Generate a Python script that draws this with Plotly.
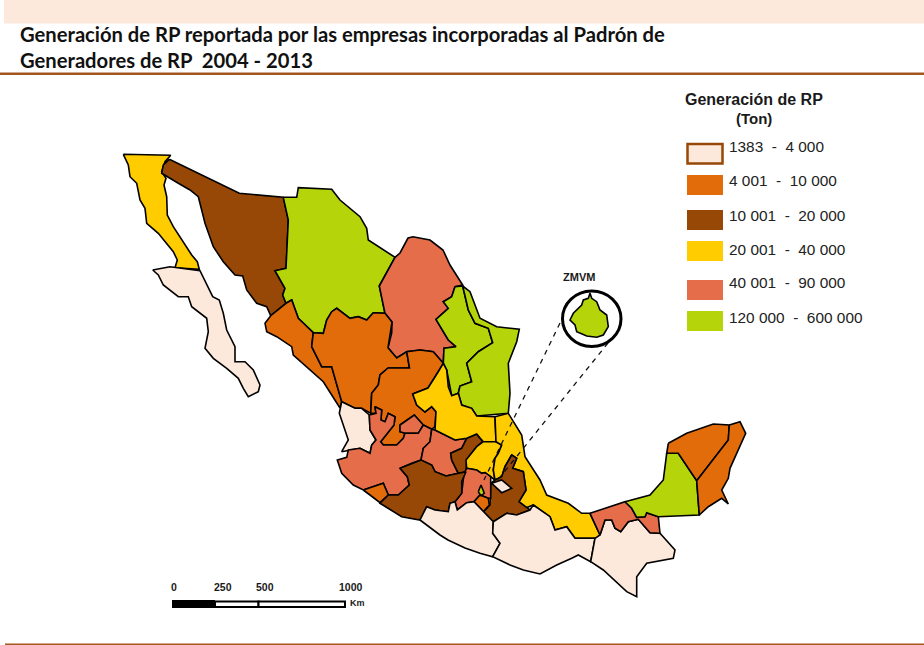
import plotly.graph_objects as go

TITLE_1 = "Generación de RP reportada por las empresas incorporadas al Padrón de"
TITLE_2 = "Generadores de RP  2004 - 2013"
LEGEND_TITLE = ["Generación de RP", "(Ton)"]
CLASS_LABELS = ["1383  -  4 000", "4 001  -  10 000", "10 001  -  20 000",
                "20 001  -  40 000", "40 001  -  90 000", "120 000  -  600 000"]
CLASS_COLORS = ["#FDE9DB", "#E36C0A", "#974806", "#FFCC00", "#E66D4A", "#B5D50A"]
SCALE_LABELS = ["0", "250", "500", "1000"]

baja_california = [(123.3,154.3),(170.7,155.3),(165,161.7),(161.7,171.7),(166,178.3),(164,185),(166.7,196.7),(167.3,215),(173.3,226.7),(185,245),(191.7,255),(197.3,261.7),(199.3,269.3),(175,267.7),(177.3,260),(173.3,251.7),(166.7,243.3),(158.3,233.3),(146.7,223.3),(145,208.3),(140,200),(136.7,183.3),(130,176.7),(128.3,165)]
baja_california_sur = [(152.7,270),(170,266.7),(200,270.7),(206.7,285),(212.7,296.7),(219.3,300),(223.3,313.3),(226.7,330),(235,346.7),(235,361.7),(245,361.7),(253.3,370),(260,385),(258.3,391.7),(248.3,396.7),(243.3,388.3),(238.3,378.3),(226.7,368.3),(213.3,358.3),(205,348.3),(208.3,331.7),(206.7,318.3),(191.7,306.7),(188.3,296.7),(178.3,296.7),(163.3,285),(158.3,275)]
sonora = [(169.3,159.3),(239.3,193.3),(283.3,197.3),(288.3,220),(286,268.3),(275,270.7),(285,288.3),(282.7,295),(286,303.3),(270.7,315.7),(266.7,306.7),(256.7,303.3),(246.7,290),(242.7,276),(235,275),(223.3,261.7),(213.3,246.7),(205,223.3),(198.3,196.7),(190,190),(178.3,183.3),(161.7,173.3),(163.3,165)]
chihuahua = [(283.3,197.3),(296.7,197.3),(298.3,187.7),(331.7,189.3),(340,200),(360,216.7),(366.7,228.3),(368.3,240),(395,257.3),(379.3,286),(385,313.3),(373.3,312.7),(366.7,320),(358.3,316.7),(350,318.3),(336.7,308.3),(331.7,311.7),(326.7,320),(323.3,333.3),(313.3,332.7),(298.3,318.3),(291.7,300),(286,303.3),(282.7,295),(285,288.3),(275,270.7),(286,268.3),(288.3,220)]
coahuila = [(395,257.3),(400,253),(408,238),(413,236.7),(430,240),(443,250),(450,265),(462.7,285),(455,286.7),(451.7,296.7),(443.3,301.7),(448.3,308.3),(436,319.3),(443.3,331.7),(448.3,340),(456,346.7),(444,348.3),(443.3,363.3),(433.3,351.7),(420,350),(406.7,351.7),(396.7,358),(388,347.7),(391.7,333),(392,322),(385,313.3),(379.3,286)]
nuevo_leon = [(455,286.7),(462.7,286),(468.3,310),(475,323.3),(488.3,328.3),(492.7,342.7),(478.3,351.7),(466.7,363.3),(471.7,381.7),(460,386),(458.3,393.3),(451.7,395.7),(446.7,370),(443.3,363.3),(444,348.3),(456,346.7),(448.3,340),(443.3,331.7),(436,319.3),(448.3,308.3),(443.3,301.7),(451.7,296.7)]
tamaulipas = [(462.7,286),(470,291.7),(480,318.3),(496.7,326.7),(519.3,329.3),(516.7,341.7),(508.3,363.3),(510,393.3),(508.3,413.3),(476.7,416),(471.7,408.3),(461.7,405),(458.3,393.3),(460,386),(471.7,381.7),(466.7,363.3),(478.3,351.7),(492.7,342.7),(488.3,328.3),(475,323.3),(468.3,310)]
sinaloa = [(286,303.3),(291.7,300),(298.3,318.3),(313.3,332.7),(311.7,346.7),(321.7,366.7),(331.7,366.7),(341.7,401.7),(340,408),(323.3,381.7),(293.3,355),(291.7,346.7),(276.7,336.7),(266.7,331.7),(265,323.3),(270.7,315.7)]
durango = [(313.3,332.7),(323.3,333.3),(326.7,320),(331.7,311.7),(336.7,308.3),(350,318.3),(358.3,316.7),(366.7,320),(373.3,312.7),(385,313.3),(392,322),(388,347.7),(396.7,358),(406.7,351.7),(409.5,368),(388,368),(380,375),(378.3,385),(371.7,393.3),(370.7,413.3),(361.7,408.3),(355,408.3),(341.7,401.7),(331.7,366.7),(321.7,366.7),(311.7,346.7)]
zacatecas = [(388,368),(409.5,368),(406.7,351.7),(420,350),(433.3,351.7),(443.3,363.3),(435,377),(428,388),(412.7,394),(416.7,405),(425,412),(431.7,406.7),(436,411.7),(435,426.7),(431.7,429.3),(423.3,425),(414.3,415),(400,425),(400,431.7),(405,433.3),(403.3,438.3),(396.7,445),(383.3,445),(380.7,441.7),(394,425),(395,416.7),(388.3,413.3),(385,421.7),(381,420),(381.7,410),(375,406.7),(376,413.3),(370.7,413.3),(371.7,393.3),(378.3,385),(380,375)]
aguascalientes = [(400,425),(414.3,415),(423.3,425),(418.3,433.3),(405,433.3),(400,431.7)]
nayarit = [(341.7,401.7),(355,408.3),(361.7,408.3),(369.3,415),(370,430),(376,440),(371.7,445),(370,453.3),(360,448.3),(348.3,450),(341.7,451.7),(348.3,440),(339.3,413.3)]
jalisco = [(369.3,415),(376,413.3),(375,406.7),(381.7,410),(381,420),(385,421.7),(388.3,413.3),(395,416.7),(394,425),(380.7,441.7),(383.3,445),(396.7,445),(403.3,438.3),(405,433.3),(418.3,433.3),(423.3,425),(431.7,429.3),(430,441.7),(423.3,448.3),(421,460),(411.7,463.3),(400,468.3),(407.3,476.7),(409.3,485),(398.3,495),(388.3,495),(383.3,483.3),(363.3,490),(353.3,485),(341.7,473.3),(337.3,460),(346.7,457.3),(348.3,450),(360,448.3),(370,453.3),(371.7,445),(376,440),(370,430)]
colima = [(363.3,490),(383.3,483.3),(388.3,495),(380,502.7),(370,495)]
guanajuato = [(431.7,429.3),(435,430),(445,435),(455,440),(466.7,438.3),(461.7,448.3),(450.7,453.3),(451.7,460),(458.3,473.3),(446,476),(435,471.7),(431.7,465),(421,460),(423.3,448.3),(430,441.7)]
queretaro = [(466.7,438.3),(476.7,434),(482.7,441.7),(476.7,446.7),(466.7,460),(466,471.7),(458.3,473.3),(451.7,460),(450.7,453.3),(461.7,448.3)]
san_luis_potosi = [(439.3,370),(443.3,363.3),(446.7,370),(448.3,386.7),(451.7,395.7),(458.3,393.3),(461.7,405),(471.7,408.3),(476.7,416),(495,416.7),(496,441.7),(483.3,441.7),(476.7,434),(466.7,438.3),(455,440),(445,435),(435,430),(436,411.7),(431.7,406.7),(425,412),(416.7,405),(412.7,394),(428,388),(435,377)]
hidalgo = [(483.3,441.7),(496,441.7),(501.7,445),(498.3,453.3),(495,458.3),(493.3,470),(495,480),(485,472.7),(481.7,473.3),(476.7,470),(466.7,468.3),(466,460),(476.7,446.7)]
veracruz = [(495,416.7),(508.3,413.3),(521.7,435),(525,456.7),(540,480),(546.7,495),(568.3,503.3),(581.7,513.3),(590,513.3),(600,535),(596.7,538.3),(575,538.3),(566.7,526.7),(555,530),(550,516.7),(533.3,505),(525,508.3),(519,501.7),(526,490),(523.3,471.7),(512.7,468.3),(516.7,458.3),(511.7,455),(505,466.7),(501.7,476.7),(495,480),(493.3,470),(495,458.3),(498.3,453.3),(501.7,445),(496,441.7)]
puebla = [(511.7,455),(516.7,458.3),(512.7,468.3),(523.3,471.7),(526,490),(519,501.7),(530,510),(516.7,515),(506.7,513.3),(493.3,521.7),(483.3,511.7),(490,505),(490.7,483.3),(495,480),(501.7,476.7),(505,466.7)]
tlaxcala = [(491.7,483.3),(501.7,480),(511.7,488.3),(501.7,492.7)]
estado_mexico = [(466.7,468.3),(476.7,470),(481.7,473.3),(485,472.7),(490.7,476.7),(490.7,498.3),(488.3,498.3),(480,495),(474,501.7),(466.7,502.7),(457.3,510),(455,501.7),(461.7,493.3),(464,473.3)]
cdmx = [(478.3,491.7),(481,485),(484.3,493.3),(481,495.7)]
morelos = [(474,501.7),(480,495),(488.3,498.3),(489.3,505),(483.3,511.7)]
michoacan = [(400,468.3),(411.7,463.3),(421,460),(431.7,465),(435,471.7),(446,476),(458.3,473.3),(466,471.7),(461.7,481.7),(461.7,493.3),(455,501.7),(450,503.3),(448.3,511.7),(435,510),(426.7,506.7),(420,520),(401.7,516.7),(380,503.3),(388.3,495),(398.3,495),(409.3,485),(407.3,476.7)]
guerrero = [(420,520),(426.7,506.7),(435,510),(448.3,511.7),(450,503.3),(455,501.7),(457.3,510),(466.7,502.7),(474,501.7),(483.3,511.7),(493.3,521.7),(492.7,533.3),(500,543.3),(492.7,556.7),(480,553.3),(465,548),(448,540),(440,535)]
oaxaca = [(493.3,521.7),(506.7,513.3),(516.7,515),(530,510),(533.3,505),(550,516.7),(555,530),(566.7,526.7),(575,538.3),(595,538.3),(590.7,561.7),(578.3,555),(571.7,558.3),(556.7,565),(540,574),(523.3,570),(510,565),(492.7,556.7),(500,543.3),(492.7,533.3)]
chiapas = [(595,538.3),(600,535),(605,520),(611.7,520),(615,528.3),(620.7,531.7),(628.3,521.7),(638.3,519.3),(650,532.7),(660,533.3),(675,550),(673.3,558.3),(646.7,563.3),(636.7,576.7),(636.7,596.7),(626.7,591.7),(603.3,570),(590.7,561.7)]
tabasco = [(590,513.3),(616.7,505),(625,501.7),(631.7,508.3),(636.7,517.3),(645,516.7),(646.7,512.7),(658.3,516.7),(660,533.3),(650,532.7),(638.3,519.3),(628.3,521.7),(620.7,531.7),(615,528.3),(611.7,520),(605,520),(600,535)]
campeche = [(625,501.7),(650,495),(663.3,480),(665,468.3),(666.7,453.3),(678.3,453.3),(696.7,480.7),(699.3,515),(658.3,516.7),(646.7,512.7),(645,516.7),(636.7,517.3),(631.7,508.3)]
yucatan = [(668.3,443.3),(686.7,433.3),(713.3,424),(729.3,425),(728.3,440),(696.7,480.7),(678.3,453.3),(666.7,453.3)]
quintana_roo = [(729.3,425),(740,421.7),(745.7,433.3),(740,446.7),(730,468.3),(728.3,478.3),(721.7,490),(728.3,504),(721.7,498.3),(708.3,506.7),(701.7,513.3),(699.3,515),(696.7,480.7),(728.3,440)]
zmvm_inset = [(590,293.3),(591.7,298.3),(596.7,301.7),(600,310),(606.7,315),(608.3,326.7),(603.3,335),(596.7,337.3),(586.7,336),(576.7,331.7),(575,325),(570,320),(573.3,313.3),(581.7,305),(583.3,300),(588.3,298.3)]

# (polygon, class index)
REGIONS = [
    (baja_california, 3), (baja_california_sur, 0), (sonora, 2), (chihuahua, 5),
    (coahuila, 4), (nuevo_leon, 5), (tamaulipas, 5), (sinaloa, 1), (durango, 1),
    (zacatecas, 1), (aguascalientes, 4), (nayarit, 0), (jalisco, 4), (colima, 1),
    (guanajuato, 4), (queretaro, 2), (san_luis_potosi, 3), (hidalgo, 3), (veracruz, 3),
    (puebla, 2), (tlaxcala, 0), (estado_mexico, 4), (morelos, 1), (cdmx, 5),
    (michoacan, 2), (guerrero, 0), (oaxaca, 0), (chiapas, 0), (tabasco, 4),
    (campeche, 5), (yucatan, 1), (quintana_roo, 1), (zmvm_inset, 5),
]
DASHED = [((560, 323), (484, 480)), ((608, 343), (497, 481))]

fig = go.Figure()
shapes, ann = [], []

def txt(x, y, s, size, family="Liberation Sans", bold=False, anchor="left", color="#1a1a1a"):
    ann.append(dict(x=x, y=y, xref="x", yref="y", text=f"<b>{s}</b>" if bold else s,
                    showarrow=False, xanchor=anchor, yanchor="middle",
                    font=dict(size=size, family=family, color=color)))

def rect(x0, y0, x1, y1, fill, line="rgba(0,0,0,0)", w=0):
    shapes.append(dict(type="rect", x0=x0, y0=y0, x1=x1, y1=y1, xref="x", yref="y",
                       fillcolor=fill, line=dict(color=line, width=w), layer="below"))

# page furniture
rect(4, 0, 924, 23.5, CLASS_COLORS[0])
rect(0, 72.5, 924, 75, "#A5561F")
rect(5, 643.5, 924, 645, "#A5561F")
txt(18, 33.5, TITLE_1, 20.2, "Lato", True, color="#111")
txt(18, 60, TITLE_2, 20.2, "Lato", True, color="#111")

# map
for pts, k in REGIONS:
    xs = [p[0] for p in pts] + [pts[0][0]]
    ys = [p[1] for p in pts] + [pts[0][1]]
    fig.add_trace(go.Scatter(x=xs, y=ys, mode="lines", fill="toself",
                             fillcolor=CLASS_COLORS[k],
                             line=dict(color="#000", width=1.6),
                             hoverinfo="skip", showlegend=False))
for a, b in DASHED:
    fig.add_trace(go.Scatter(x=[a[0], b[0]], y=[a[1], b[1]], mode="lines",
                             line=dict(color="#111", width=1.3, dash="5px,5px"),
                             hoverinfo="skip", showlegend=False))

# inset circle
shapes.append(dict(type="circle", x0=562.5, y0=291, x1=621, y1=346.5, xref="x", yref="y",
                   line=dict(color="#000", width=3), fillcolor="rgba(0,0,0,0)", layer="above"))
txt(579, 277, "ZMVM", 11, bold=True, anchor="center")

# legend
txt(753.5, 99, LEGEND_TITLE[0], 16, bold=True, anchor="center")
txt(754, 118, LEGEND_TITLE[1], 15, bold=True, anchor="center")
SW_Y = [144, 175, 210, 241, 280, 311]
TX_Y = [146, 180, 215, 249, 282.5, 317]
for i, lab in enumerate(CLASS_LABELS):
    if i == 0:
        rect(687.5, SW_Y[i], 722.5, SW_Y[i] + 19.5, CLASS_COLORS[i], "#974806", 2.5)
    else:
        rect(687, SW_Y[i], 723, SW_Y[i] + 20, CLASS_COLORS[i])
    txt(727, TX_Y[i], lab, 15.4, color="#222")

# scale bar
rect(172, 600, 215, 608, "#000")
rect(215, 601.5, 258.5, 607, "#fff", "#000", 2)
rect(258.5, 601.5, 345, 607, "#fff", "#000", 2)
for x, lab in zip([173.5, 222.5, 265, 350.5], SCALE_LABELS):
    txt(x, 586.5, lab, 10.5, bold=True, anchor="center")
txt(347.5, 602.5, "Km", 9, bold=True)

fig.update_layout(
    width=924, height=645, margin=dict(l=0, r=0, t=0, b=0), autosize=False,
    paper_bgcolor="#fff", plot_bgcolor="#fff", shapes=shapes, annotations=ann,
    xaxis=dict(range=[0, 924], visible=False, fixedrange=True),
    yaxis=dict(range=[645, 0], visible=False, fixedrange=True),
)
fig.write_html("out.html", config={"displayModeBar": False},
               post_script="document.body.style.margin='0';document.documentElement.style.overflow='hidden';")
